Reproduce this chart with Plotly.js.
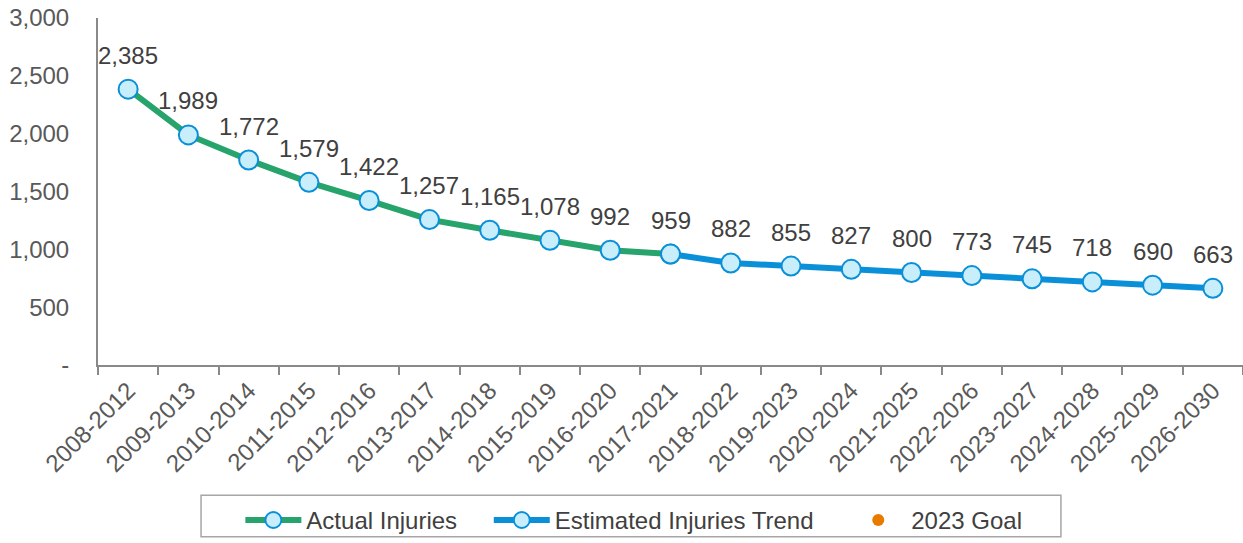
<!DOCTYPE html>
<html>
<head>
<meta charset="utf-8">
<script src="https://cdn.plot.ly/plotly-3.0.1.min.js"></script>
<style>html,body{margin:0;padding:0;background:#fff;}#chart{width:1243px;height:543px;}</style>
</head>
<body>
<div id="chart"></div>
<script>
const categories = ['2008-2012','2009-2013','2010-2014','2011-2015','2012-2016','2013-2017','2014-2018','2015-2019','2016-2020','2017-2021','2018-2022','2019-2023','2020-2024','2021-2025','2022-2026','2023-2027','2024-2028','2025-2029','2026-2030'];
const actualCats = categories.slice(0, 10);
const actualValues = [2385, 1989, 1772, 1579, 1422, 1257, 1165, 1078, 992, 959];
const estimatedCats = categories.slice(9);
const estimatedValues = [959, 882, 855, 827, 800, 773, 745, 718, 690, 663];
const goalCats = ['2018-2022'];
const goalValues = [null];
const yTickVals = [0, 500, 1000, 1500, 2000, 2500, 3000];
const yTickText = ['-', '500', '1,000', '1,500', '2,000', '2,500', '3,000'];

const fmt = v => v.toLocaleString('en-US');
const FONT = 'Liberation Sans, Arial, sans-serif';
const FS = 24;
const markerStyle = {size: 19, color: '#C8EEFC', line: {color: '#0A90D8', width: 2}};
const NB = '\u00a0\u00a0\u00a0\u00a0';

const traces = [
  {
    name: 'Actual Injuries' + NB, x: actualCats, y: actualValues, type: 'scatter', mode: 'lines+markers',
    line: {color: '#27A36C', width: 6}, marker: markerStyle
  },
  {
    name: 'Estimated Injuries Trend' + NB, x: estimatedCats, y: estimatedValues, type: 'scatter', mode: 'lines+markers',
    line: {color: '#0A90D8', width: 6}, marker: markerStyle
  },
  {
    name: '2023 Goal', x: goalCats, y: goalValues, type: 'scatter', mode: 'markers',
    marker: {size: 12, color: '#E97A00'}
  }
];

// data labels, positioned by the axes from the data arrays
const labelCats = actualCats.concat(estimatedCats.slice(1));
const labelValues = actualValues.concat(estimatedValues.slice(1));
const annotations = labelCats.map((c, i) => ({
  x: c, y: labelValues[i], xref: 'x', yref: 'y',
  text: fmt(labelValues[i]), showarrow: false, yshift: 34,
  font: {family: FONT, size: FS, color: '#404040'}
}));

const layout = {
  width: 1243, height: 543,
  margin: {l: 98, r: 0, t: 18, b: 175},
  paper_bgcolor: '#ffffff', plot_bgcolor: '#ffffff',
  font: {family: FONT, color: '#595959', size: FS},
  showlegend: true,
  xaxis: {
    type: 'category', categoryorder: 'array', categoryarray: categories,
    range: [-0.5, categories.length - 0.5], autorange: false,
    showline: true, linecolor: '#898989', linewidth: 2,
    ticks: 'outside', tickson: 'boundaries', ticklen: 8, tickcolor: '#898989', tickwidth: 2,
    tickangle: -45, tickfont: {family: FONT, size: FS, color: '#595959'},
    showgrid: false, zeroline: false, fixedrange: true
  },
  yaxis: {
    range: [0, 3000], autorange: false, tickvals: yTickVals, ticktext: yTickText,
    showline: true, linecolor: '#898989', linewidth: 2,
    ticks: '', showgrid: false, zeroline: false,
    tickfont: {family: FONT, size: FS, color: '#595959'},
    ticklabelstandoff: 22, fixedrange: true
  },
  legend: {
    orientation: 'h', x: 0.468, xanchor: 'center', y: -0.383, yanchor: 'top',
    font: {family: FONT, size: FS, color: '#404040'},
    itemwidth: 56, bgcolor: 'rgba(0,0,0,0)', borderwidth: 0
  },
  annotations: annotations,
  shapes: [{
    type: 'rect', xref: 'paper', yref: 'paper',
    x0: 0.09, x1: 0.841, y0: -0.375, y1: -0.495,
    line: {color: '#A6A6A6', width: 1.5}, fillcolor: 'rgba(0,0,0,0)', layer: 'below'
  }]
};

Plotly.newPlot('chart', traces, layout, {displayModeBar: false, staticPlot: true});
</script>
</body>
</html>
